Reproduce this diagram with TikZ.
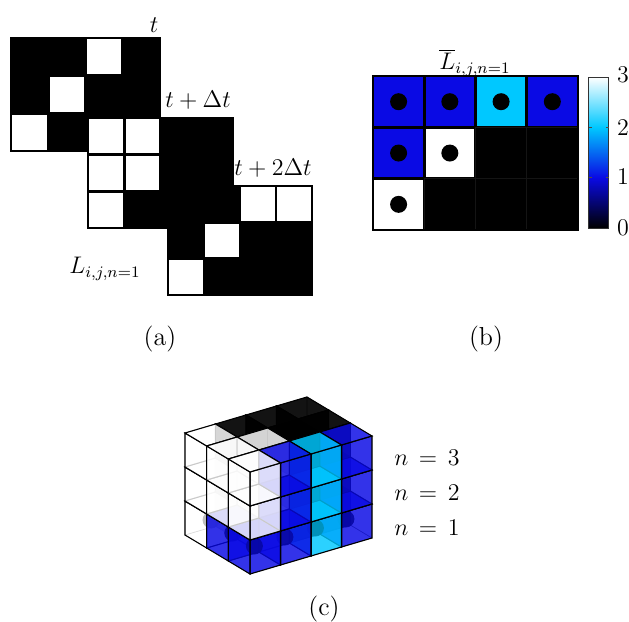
\documentclass[tikz,border=0pt]{standalone}
\usetikzlibrary{calc}
\definecolor{cmblue}{RGB}{10,10,228}
\definecolor{cmcyan}{RGB}{0,200,255}
\colorlet{c0}{black}
\colorlet{c1}{cmblue}
\colorlet{c2}{cmcyan}
\colorlet{c3}{white}
\newcommand{\drawmatrix}[5]{%
  \fill[black] (#1,#2) rectangle (#3,#4);
  \pgfmathsetmacro\cw{(#3-#1)/4}
  \pgfmathsetmacro\ch{(#4-#2)/3}
  \foreach \r/\c in {#5}{
    \fill[white] ({#1+(\c-1)*\cw+1.3},{#2+(\r-1)*\ch+1.3}) rectangle ({#1+\c*\cw-1.3},{#2+\r*\ch-1.3});
  }
  \draw[line width=1.1pt] (#1,#2) rectangle (#3,#4);
}
\begin{document}
\begin{tikzpicture}[x=0.5pt,y=-0.5pt,
  lbl/.style={font=\fontsize{12}{14}\selectfont, inner sep=0pt},
  captext/.style={font=\fontsize{13}{15}\selectfont, inner sep=0pt},
  backface/.style={fill=c#1, fill opacity=0.4, draw=black, draw opacity=0.35, line width=0.3pt},
  frontface/.style={fill=c#1, fill opacity=\fo, draw=black, line width=0.55pt},
  dotmark/.style={fill=black, fill opacity=0.9}]
\useasboundingbox (0,0) rectangle (629,622);

% ---------------- panel (a)
\drawmatrix{11}{38}{160}{151}{1/3,2/2,3/1}
\drawmatrix{88}{118}{233}{228}{1/1,1/2,2/1,2/2,3/1}
\drawmatrix{168}{186}{312}{295}{1/3,1/4,2/2,3/1}
\node[lbl] (lt) at (154,25) {$t$};
\node[lbl] (ltdt) at (198,100) {$t+\Delta t$};
\node[lbl] (lt2dt) at (273,168) {$t+2\Delta t$};
\node[lbl] (lL) at (105,269) {$L_{i,j,n=1}$};
\node[captext] (capa) at (160,339) {(a)};

% ---------------- panel (b)
\fill[black] (373,76) rectangle (578,230);
\foreach \r in {1,2,3}{
  \foreach \c in {1,2,3,4}{
    \pgfmathtruncatemacro\idx{(\r-1)*4+\c-1}
    \pgfmathtruncatemacro\val{{1,1,2,1,1,3,0,0,3,0,0,0}[\idx]}
    \pgfmathsetmacro\xa{373+(\c-1)*51.25}
    \pgfmathsetmacro\ya{76+(\r-1)*51.33}
    \ifnum\val>0
      \fill[c\val] (\xa+1.4,\ya+1.4) rectangle (\xa+51.25-1.4,\ya+51.33-1.4);
      \fill[black] (\xa+25.6,\ya+25.7) circle[radius=4.25pt];
    \else
      \draw[black!92!white, line width=0.3pt] (\xa,\ya) rectangle (\xa+51.25,\ya+51.33);
    \fi
  }
}
\draw[line width=1.1pt] (373,76) rectangle (578,230);
\node[lbl] (lLbar) at (475,63) {$\overline{L}_{i,j,n=1}$};
% colorbar
\shade[bottom color=black, top color=cmblue] (589,177.7) rectangle (609,228);
\shade[bottom color=cmblue, top color=cmcyan] (589,127.3) rectangle (609,177.7);
\shade[bottom color=cmcyan, top color=white] (589,77) rectangle (609,127.3);
\draw[line width=0.5pt, black!80] (589,77) rectangle (609,228);
\draw[line width=0.4pt, black!70] (609,127.3) -- (606,127.3) (609,177.7) -- (606,177.7) (589,127.3) -- (592,127.3) (589,177.7) -- (592,177.7);
\node[lbl] (cb3) at (623,75) {3};
\node[lbl] (cb2) at (623,128) {2};
\node[lbl] (cb1) at (623,177) {1};
\node[lbl] (cb0) at (623,228) {0};
\node[captext] (capb) at (486,339) {(b)};

% ---------------- panel (c)
\foreach \n in {1,2,3}{
  \foreach \i in {3,2,1}{
    \foreach \j in {4,3,2,1}{
      \pgfmathtruncatemacro\idx{(\i-1)*4+\j-1}
      \ifnum\n=1
        \pgfmathtruncatemacro\val{{1,1,2,1,1,3,0,0,3,0,0,0}[\idx]}
      \else
        \pgfmathtruncatemacro\val{{3,1,2,1,3,3,0,0,3,0,0,0}[\idx]}
      \fi
      \ifnum\val=0 \def\fo{0.88}\else \def\fo{0.72}\fi
      \pgfmathsetmacro\ox{250+(\i-1)*(-21.67)+(\j-1)*30.5}
      \pgfmathsetmacro\oy{574+(\i-1)*(-13)+(\j-1)*(-9)+(\n-1)*(-34)}
      \coordinate (O) at (\ox,\oy);
      % back faces
      \path[backface=\val] (O) -- ++(-21.67,-13) -- ++(30.5,-9) -- ++(21.67,13) -- cycle;
      \path[backface=\val] ($(O)+(-21.67,-13)$) -- ++(30.5,-9) -- ++(0,-34) -- ++(-30.5,9) -- cycle;
      \path[backface=\val] ($(O)+(30.5,-9)$) -- ++(-21.67,-13) -- ++(0,-34) -- ++(21.67,13) -- cycle;
      % dot
      \ifnum\n=1 \ifnum\val>0
        \fill[dotmark] ($(O)+(4.42,-28)$) circle[radius=4.25pt];
      \fi\fi
      % front faces
      \path[frontface=\val] (O) -- ++(30.5,-9) -- ++(0,-34) -- ++(-30.5,9) -- cycle;
      \path[frontface=\val] (O) -- ++(-21.67,-13) -- ++(0,-34) -- ++(21.67,13) -- cycle;
      \path[frontface=\val] ($(O)+(0,-34)$) -- ++(-21.67,-13) -- ++(30.5,-9) -- ++(21.67,13) -- cycle;
    }
  }
}
\node[lbl] (n3) at (427,458) {$n\mskip3mu=\mskip3mu3$};
\node[lbl] (n2) at (427,493) {$n\mskip3mu=\mskip3mu2$};
\node[lbl] (n1) at (427,528) {$n\mskip3mu=\mskip3mu1$};
\node[captext] (capc) at (324,609) {(c)};
\end{tikzpicture}
\end{document}
